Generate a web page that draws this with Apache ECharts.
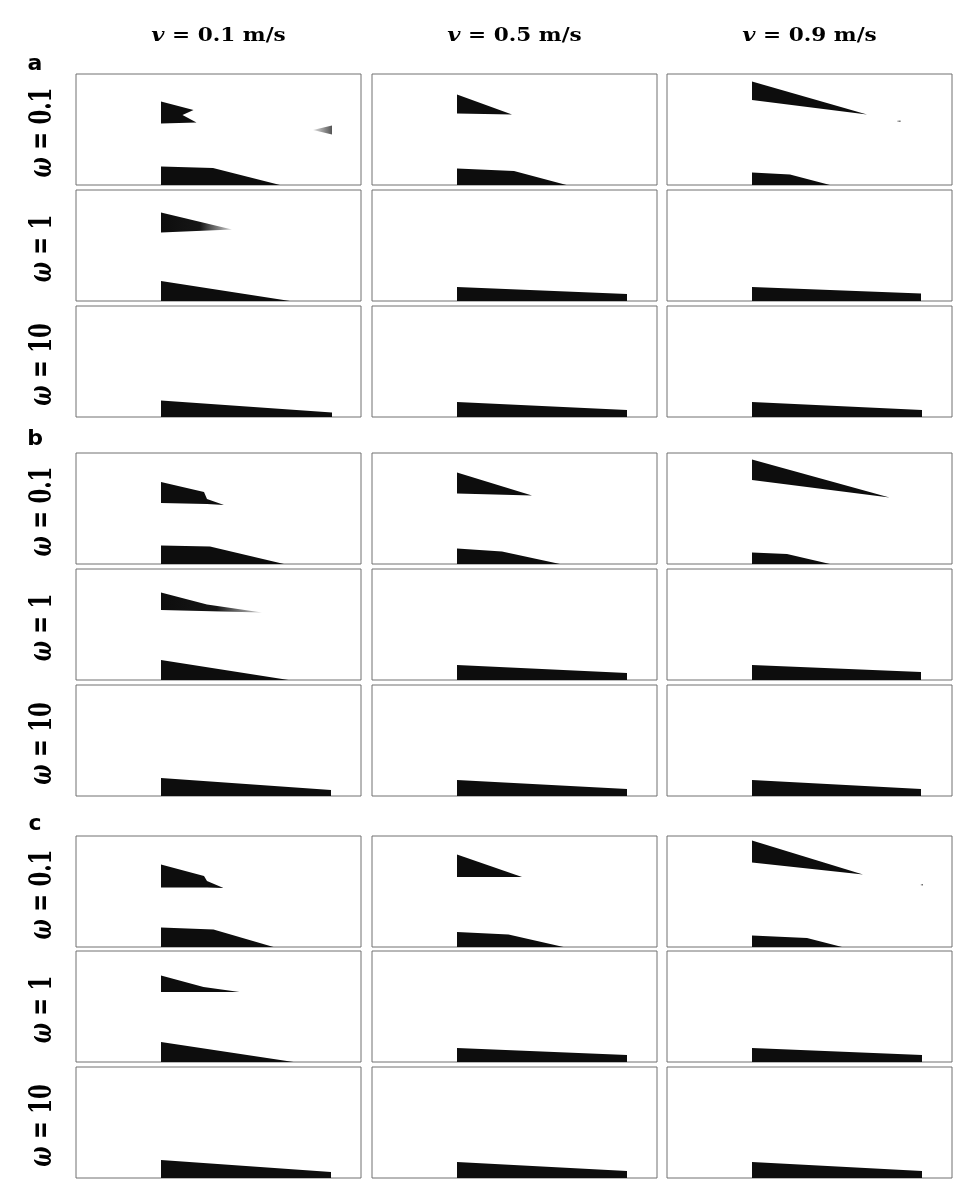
<!DOCTYPE html>
<html><head><meta charset="utf-8">
<script src="https://cdn.jsdelivr.net/npm/echarts@6/dist/echarts.min.js"></script>
<style>html,body{margin:0;padding:0;background:#fff}#c{width:966px;height:1196px}</style>
</head><body><div id="c"></div>
<script>
// ---------------- data ----------------
const V_VALUES = ['0.1', '0.5', '0.9'];        // column headers, v in m/s
const OMEGA_VALUES = ['0.1', '1', '10'];       // row headers, ω
const GROUP_LABELS = ['a', 'b', 'c'];
const X_RANGE = [0, 57];                        // panel domain (length units)
const Y_RANGE = [0, 22.2];

// Panel order in each group: row-major (ω = 0.1, 1, 10) x (v = 0.1, 0.5, 0.9)
// Floating (detached) body outlines
const A_FLOATING = [
  [[17,16.7],[23.5,15],[21.3,14],[24.1,12.5],[17,12.3]],
  [[17,18.1],[28,14.1],[17,14.3]],
  [[17,20.7],[40,14.1],[17,17]],
  [[17,17.7],[31.2,14.3],[17,13.7]],
  null, null, null, null, null
];
// Bed (attached) outlines
const A_BED = [
  [[17,0],[17,3.7],[27.4,3.4],[40.8,0]],
  [[17,0],[17,3.3],[28.4,2.8],[38.9,0]],
  [[17,0],[17,2.5],[24.6,2.1],[32.6,0]],
  [[17,0],[17,4],[42.8,0]],
  [[17,0],[17,2.8],[51,1.4],[51,0]],
  [[17,0],[17,2.8],[50.8,1.5],[50.8,0]],
  [[17,0],[17,3.3],[51.2,0.9],[51.2,0]],
  [[17,0],[17,3],[51,1.4],[51,0]],
  [[17,0],[17,3],[51,1.4],[51,0]]
];
const A_SPECKS = [
  [[47.4,11],[51.2,11.9],[51.2,10.1]],
  null,
  [[46,12.9],[46.7,12.9],[46.7,12.6],[46,12.6]],
  null, null, null, null, null, null
];

const B_FLOATING = [
  [[17,16.4],[25.6,14.4],[26.2,13],[29.6,11.8],[26.2,12],[17,12.2]],
  [[17,18.3],[32,13.7],[17,14.1]],
  [[17,20.9],[44.5,13.3],[17,16.8]],
  [[17,17.5],[26.2,15.1],[37.2,13.5],[17,14]],
  null, null, null, null, null
];
const B_BED = [
  [[17,0],[17,3.7],[26.8,3.5],[41.6,0]],
  [[17,0],[17,3.1],[26,2.5],[37.6,0]],
  [[17,0],[17,2.3],[24,2],[32.6,0]],
  [[17,0],[17,4],[42.5,0]],
  [[17,0],[17,3],[51,1.4],[51,0]],
  [[17,0],[17,3],[50.8,1.6],[50.8,0]],
  [[17,0],[17,3.6],[51,1.2],[51,0]],
  [[17,0],[17,3.2],[51,1.4],[51,0]],
  [[17,0],[17,3.2],[50.8,1.4],[50.8,0]]
];
const B_SPECKS = [null, null, null, null, null, null, null, null, null];

const C_FLOATING = [
  [[17,16.5],[25.6,14.2],[26.2,13.2],[29.5,11.8],[26.2,11.9],[17,11.9]],
  [[17,18.5],[30,14],[17,14]],
  [[17,21.3],[39.2,14.5],[17,16.9]],
  [[17,17.3],[25.5,15],[32.7,14],[17,14]],
  null, null, null, null, null
];
const C_BED = [
  [[17,0],[17,3.9],[27.5,3.5],[39.5,0]],
  [[17,0],[17,3],[27.3,2.5],[38.3,0]],
  [[17,0],[17,2.3],[28,1.8],[35,0]],
  [[17,0],[17,4],[43.5,0]],
  [[17,0],[17,2.8],[51,1.4],[51,0]],
  [[17,0],[17,2.8],[51,1.4],[51,0]],
  [[17,0],[17,3.6],[51,1.2],[51,0]],
  [[17,0],[17,3.2],[51,1.4],[51,0]],
  [[17,0],[17,3.2],[51,1.4],[51,0]]
];
const C_SPECKS = [
  null, null,
  [[50.7,12.6],[51.2,12.6],[51.2,12.3],[50.7,12.3]],
  null, null, null, null, null, null
];

// ---------------- layout / style ----------------
const COL_X = [76, 372, 667];
const ROW_Y = [[74, 190, 306], [453, 569, 685], [836, 951, 1067]];
const PW = 285, PH = 111;
const GROUP_LABEL_Y = [64, 439, 824];
const FADED_TIP = { a: [3], b: [3] };   // panels whose floating body fades to grey at its tip
const INK = '#0d0d0d';

const groups = [
  { floating: A_FLOATING, bed: A_BED, specks: A_SPECKS },
  { floating: B_FLOATING, bed: B_BED, specks: B_SPECKS },
  { floating: C_FLOATING, bed: C_BED, specks: C_SPECKS }
];

const grids = [], xAxes = [], yAxes = [], series = [], graphics = [];
const serif = '"DejaVu Serif", "Liberation Serif", serif';

groups.forEach((g, gi) => {
  const gname = GROUP_LABELS[gi];
  for (let k = 0; k < 9; k++) {
    const r = Math.floor(k / 3), c = k % 3;
    const idx = grids.length;
    grids.push({ left: COL_X[c], top: ROW_Y[gi][r], width: PW, height: PH,
      show: true, borderColor: '#707070', borderWidth: 1, backgroundColor: '#fff' });
    xAxes.push({ gridIndex: idx, type: 'value', min: X_RANGE[0], max: X_RANGE[1], show: false });
    yAxes.push({ gridIndex: idx, type: 'value', min: Y_RANGE[0], max: Y_RANGE[1], show: false });
    const polys = [];
    if (g.bed[k]) polys.push({ pts: g.bed[k], kind: 'bed' });
    if (g.floating[k]) polys.push({ pts: g.floating[k], kind: (FADED_TIP[gname] || []).includes(k) ? 'fade' : 'body' });
    if (g.specks[k]) polys.push({ pts: g.specks[k], kind: 'speck' });
    series.push({
      type: 'custom', xAxisIndex: idx, yAxisIndex: idx, silent: true, animation: false,
      data: polys.map(p => p.pts[0]),
      renderItem: (params, api) => {
        const p = polys[params.dataIndex];
        const points = p.pts.map(q => api.coord(q));
        let fill = INK;
        if (p.kind === 'fade') fill = new echarts.graphic.LinearGradient(0, 0, 1, 0, [
          { offset: 0, color: INK }, { offset: 0.55, color: '#161616' }, { offset: 1, color: '#cfcfcf' }]);
        if (p.kind === 'speck') fill = new echarts.graphic.LinearGradient(0, 0, 1, 0, [
          { offset: 0, color: '#e0e0e0' }, { offset: 1, color: '#555' }]);
        return { type: 'polygon', shape: { points }, style: { fill: fill, stroke: null } };
      }
    });
    // row label (rotated) for left column
    if (c === 0) {
      graphics.push({
        type: 'text', x: 43, y: ROW_Y[gi][r] + PH / 2 + 3, rotation: Math.PI / 2,
        scaleX: 1.25, scaleY: 1.9,
        style: {
          text: '{i|ω} = ' + OMEGA_VALUES[r],
          rich: { i: { fontStyle: 'italic', fontWeight: 'bold', fontFamily: serif, fontSize: 17, fill: '#000' } },
          fontFamily: serif, fontWeight: 'bold', fontSize: 17, fill: '#000',
          align: 'center', verticalAlign: 'middle', textAlign: 'center', textVerticalAlign: 'middle'
        }
      });
    }
  }
  graphics.push({
    type: 'text', x: 35, y: GROUP_LABEL_Y[gi],
    style: { text: gname, fontFamily: '"DejaVu Sans", sans-serif', fontWeight: 900, fontSize: 22, fill: '#000',
      align: 'center', verticalAlign: 'middle', textAlign: 'center', textVerticalAlign: 'middle' }
  });
});

V_VALUES.forEach((v, c) => {
  graphics.push({
    type: 'text', x: COL_X[c] + PW / 2, y: 36, scaleX: 1.2,
    style: {
      text: '{i|v} = ' + v + ' m/s',
      rich: { i: { fontStyle: 'italic', fontWeight: 'bold', fontFamily: serif, fontSize: 19, fill: '#000' } },
      fontFamily: serif, fontWeight: 'bold', fontSize: 18, fill: '#000',
      align: 'center', verticalAlign: 'middle', textAlign: 'center', textVerticalAlign: 'middle'
    }
  });
});

const chart = echarts.init(document.getElementById('c'), null, { renderer: 'canvas' });
chart.setOption({
  animation: false,
  backgroundColor: '#fff',
  grid: grids, xAxis: xAxes, yAxis: yAxes, series: series, graphic: graphics
});
</script></body></html>
